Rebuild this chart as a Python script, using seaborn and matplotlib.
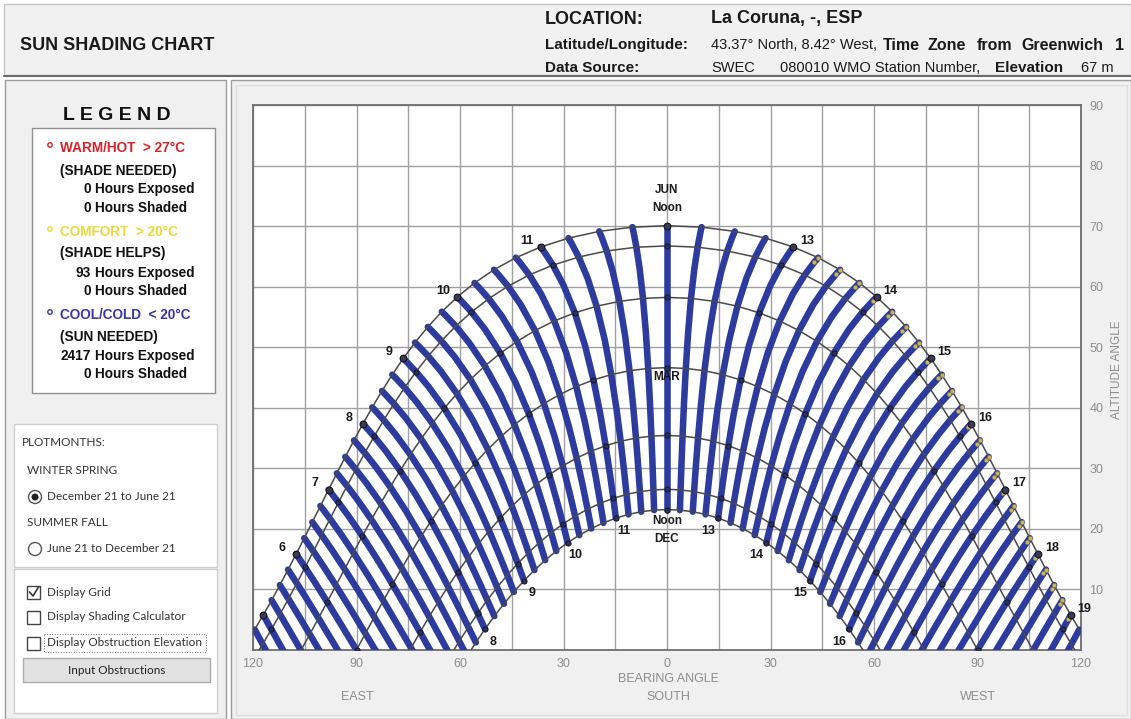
import numpy as np
import pandas as pd
import matplotlib
matplotlib.use('Agg')
import matplotlib.pyplot as plt
from matplotlib.patches import Rectangle, Circle
import seaborn as sns

# site
LATITUDE = 43.37

# date curves (21st of each month), declination read from the noon altitudes
MONTH_NAMES = ['DEC', 'JAN', 'FEB', 'MAR', 'APR', 'MAY', 'JUN']
MONTH_DECLINATION = [-23.44, -20.1, -11.2, 0.0, 11.6, 20.1, 23.44]

# observation days Dec 21 -> Jun 21 (about twice a month)
DAY_DECLINATION = [-23.44, -22.5, -20.1, -16.0, -11.2, -5.9, 0.0, 5.9, 11.6, 16.5, 20.1, 22.5, 23.44]

# solar time of the traces: every quarter hour
HOURS = [4, 5, 6, 7, 8, 9, 10, 11, 12, 13, 14, 15, 16, 17, 18, 19]
QUARTERS = [0.0, 0.25, 0.5, 0.75]
MARKER_HOURS = [5, 6, 7, 8, 9, 10, 11, 12, 13, 14, 15, 16, 17, 18, 19]

# comfort (yellow) points: afternoons close to June 21
COMFORT_HOURS = [13, 14, 15, 16, 17, 18]
COMFORT_DECLINATION = [22.5, 23.44]

JUN_LABEL_HOURS = [6, 7, 8, 9, 10, 11, 13, 14, 15, 16, 17, 18, 19]
DEC_LABEL_HOURS = [8, 9, 10, 11, 13, 14, 15, 16]

BEARING_TICKS = [-120, -90, -60, -30, 0, 30, 60, 90, 120]
BEARING_GRID = [-105, -75, -45, -15, 15, 45, 75, 105]
ALTITUDE_TICKS = [10, 20, 30, 40, 50, 60, 70, 80, 90]

BLUE = '#2d3b9f'


def sun_position(dec, t):
    lat = np.radians(LATITUDE)
    d = np.radians(dec)
    h = np.radians(15.0 * (np.asarray(t) - 12.0))
    alt = np.degrees(np.arcsin(np.sin(lat) * np.sin(d) + np.cos(lat) * np.cos(d) * np.cos(h)))
    bearing = np.degrees(np.arctan2(np.sin(h), np.cos(h) * np.sin(lat) - np.tan(d) * np.cos(lat)))
    return bearing, alt


times = [hr + q for hr in HOURS for q in QUARTERS]

rows = []
for t in times:
    for d in DAY_DECLINATION:
        b, a = sun_position(d, t)
        rows.append((t, d, float(b), float(a)))
traces = pd.DataFrame(rows, columns=['time', 'dec', 'bearing', 'altitude'])

rows = []
for m, d in zip(MONTH_NAMES, MONTH_DECLINATION):
    for t in times:
        b, a = sun_position(d, t)
        rows.append((m, t, float(b), float(a)))
curves = pd.DataFrame(rows, columns=['month', 'time', 'bearing', 'altitude'])
hour_marks = curves[curves['time'].isin(MARKER_HOURS) & (curves['altitude'] > 0)]
jun_marks = hour_marks[hour_marks['month'] == 'JUN']

rows = []
for hr in COMFORT_HOURS:
    for q in QUARTERS:
        for d in COMFORT_DECLINATION:
            b, a = sun_position(d, hr + q + 0.25)
            rows.append((float(b), float(a)))
comfort = pd.DataFrame(rows, columns=['bearing', 'altitude'])

sns.set_theme(style='white')
plt.rcParams['font.family'] = ['Liberation Sans', 'DejaVu Sans']

fig = plt.figure(figsize=(11.31, 7.19), dpi=100)
fig.patch.set_facecolor('white')

# background "window" drawn in pixel coordinates
bg = fig.add_axes([0, 0, 1, 1])
bg.set_xlim(0, 1131)
bg.set_ylim(719, 0)
bg.axis('off')


def box(x0, y0, x1, y1, fc, ec, lw=1.0, ls='-'):
    bg.add_patch(Rectangle((x0, y0), x1 - x0, y1 - y0, facecolor=fc, edgecolor=ec, linewidth=lw, linestyle=ls))


def txt(x, y, s, size=8.5, color='black', weight='normal', ha='left', **kw):
    bg.text(x, y, s, fontsize=size, color=color, fontweight=weight, ha=ha, va='center', **kw)


# header
ink = '#1a1a1a'
box(4, 4, 1131, 75, '#f1f1f1', '#c4c4c4')
bg.plot([4, 1131], [76, 76], color='#6b6b6b', lw=1.5)
txt(20, 45, 'SUN SHADING CHART', size=13, weight='bold', color=ink)
txt(545, 19, 'LOCATION:', size=13, weight='bold', color=ink)
txt(711, 19, 'La Coruna, -, ESP', size=13, weight='bold', color=ink)
txt(545, 45, 'Latitude/Longitude:', size=11, weight='bold', color=ink)
txt(711, 45, '43.37° North, 8.42° West,', size=10.5, color=ink)
for x, w in [(883, 'Time'), (928, 'Zone'), (977, 'from'), (1021, 'Greenwich'), (1115, '1')]:
    txt(x, 45, w, size=11.5, weight='bold', color=ink)
txt(545, 68, 'Data Source:', size=11, weight='bold', color=ink)
txt(711, 68, 'SWEC', size=10.5, color=ink)
txt(780, 68, '080010 WMO Station Number,', size=10.5, color=ink)
txt(995, 68, 'Elevation', size=11, weight='bold', color=ink)
txt(1081, 68, '67 m', size=10.5, color=ink)

# left panel
box(5, 80, 226, 719, '#f0f0f0', '#9c9c9c')
txt(117, 116, 'L E G E N D', size=14, weight='bold', ha='center', color='#111111')
box(32, 128, 215, 393, 'white', '#8f8f8f')
legend_rows = [
    (148, 'WARM/HOT  > 27°C', '#d8232a', True),
    (171, '(SHADE NEEDED)', '#111111', False),
    (232, 'COMFORT  > 20°C', '#ecd83a', True),
    (253, '(SHADE HELPS)', '#111111', False),
    (315, 'COOL/COLD  < 20°C', '#3a35a8', True),
    (337, '(SUN NEEDED)', '#111111', False),
]
for y, s, c, dot in legend_rows:
    txt(60, y, s, size=9.8, weight='bold', color=c)
    if dot:
        bg.add_patch(Circle((50, y - 3), 2.2, facecolor='none', edgecolor=c, lw=1.0))
hour_rows = [(189, '0', 'Exposed'), (208, '0', 'Shaded'), (273, '93', 'Exposed'),
             (291, '0', 'Shaded'), (356, '2417', 'Exposed'), (374, '0', 'Shaded')]
for y, n, s in hour_rows:
    txt(91, y, n, size=9.8, weight='bold', ha='right', color='#111111')
    txt(95, y, 'Hours ' + s, size=9.8, weight='bold', color='#111111')

panel_font = ['Lato', 'DejaVu Sans']
grey_ink = '#333333'
box(14, 424, 217, 567, 'white', '#cfcfcf')
txt(22, 443, 'PLOTMONTHS:', size=8.5, color=grey_ink, family=panel_font)
txt(27, 470, 'WINTER SPRING', size=8.5, color=grey_ink, family=panel_font)
txt(47, 497, 'December 21 to June 21', size=8.5, color=grey_ink, family=panel_font)
txt(27, 523, 'SUMMER FALL', size=8.5, color=grey_ink, family=panel_font)
txt(47, 549, 'June 21 to December 21', size=8.5, color=grey_ink, family=panel_font)
bg.add_patch(Circle((35, 497), 6.5, facecolor='white', edgecolor='#555555', lw=1.0))
bg.add_patch(Circle((35, 497), 3.5, facecolor='#222222', edgecolor='none'))
bg.add_patch(Circle((35, 549), 6.5, facecolor='white', edgecolor='#555555', lw=1.0))

box(14, 569, 217, 713, 'white', '#cfcfcf')
for y, s in [(592, 'Display Grid'), (617, 'Display Shading Calculator'),
             (643, 'Display Obstruction Elevation')]:
    box(27, y - 6.5, 40, y + 6.5, 'white', '#444444')
    txt(47, y, s, size=8.5, color=grey_ink, family=panel_font)
bg.plot([29.5, 33, 38.5], [592, 596, 587], color='#333333', lw=1.2)
box(44, 634, 206, 652, 'none', '#777777', lw=0.7, ls=':')
box(23, 658, 210, 682, '#e1e1e1', '#adadad')
txt(117, 670, 'Input Obstructions', size=8.5, color='#222222', ha='center', family=panel_font)

# chart panel
box(231, 80, 1131, 719, '#f0f0f0', '#9c9c9c')
box(236, 85, 1127, 715, 'none', '#dedede')

ax = fig.add_axes([253 / 1131, 1 - 650 / 719, (1081 - 253) / 1131, (650 - 105) / 719])
ax.set_facecolor('white')
ax.set_xlim(-120, 120)
ax.set_ylim(0, 90)

sns.lineplot(data=traces, x='bearing', y='altitude', units='time', estimator=None, sort=False,
             color=BLUE, linewidth=4.7, ax=ax, legend=False, zorder=3,
             solid_capstyle='round')
sns.lineplot(data=curves, x='bearing', y='altitude', units='month', estimator=None, sort=False,
             color='#4a4a4a', linewidth=1.1, ax=ax, legend=False, zorder=4)
sns.scatterplot(data=comfort, x='bearing', y='altitude', color='#cbb65e', edgecolor='#8c7b43',
                linewidth=0.4, s=9, ax=ax, legend=False, zorder=5)
sns.scatterplot(data=hour_marks, x='bearing', y='altitude', color='#2c2f63', edgecolor='#111111',
                linewidth=0.6, s=14, ax=ax, legend=False, zorder=6)
sns.scatterplot(data=jun_marks, x='bearing', y='altitude', color='#3a3a55', edgecolor='#111111',
                linewidth=0.7, s=24, ax=ax, legend=False, zorder=6)

# hour labels on the June and December curves
for hr in JUN_LABEL_HOURS:
    b, a = sun_position(MONTH_DECLINATION[-1], hr)
    dx = -10 if hr < 12 else 10
    ax.annotate(str(hr), (b, a), xytext=(dx, 4.5), textcoords='offset points',
                ha='center', va='center', fontsize=9, fontweight='bold', color=ink, zorder=7)
for hr in DEC_LABEL_HOURS:
    b, a = sun_position(MONTH_DECLINATION[0], hr)
    dx = 5.5 if hr < 12 else -7
    ax.annotate(str(hr), (b, a), xytext=(dx, -9), textcoords='offset points',
                ha='center', va='center', fontsize=9, fontweight='bold', color=ink, zorder=7)

month_text = [('JUN', 'JUN', 26), ('JUN', 'Noon', 13), ('MAR', 'MAR', -7),
              ('DEC', 'Noon', -8), ('DEC', 'DEC', -21.5)]
for m, s, dy in month_text:
    b, a = sun_position(MONTH_DECLINATION[MONTH_NAMES.index(m)], 12)
    ax.annotate(s, (b, a), xytext=(0, dy), textcoords='offset points',
                ha='center', va='center', fontsize=8.5, fontweight='bold', color=ink, zorder=7)

ax.set_xticks(BEARING_TICKS)
ax.set_xticklabels([str(abs(v)) for v in BEARING_TICKS])
ax.set_xticks(BEARING_GRID, minor=True)
ax.yaxis.tick_right()
ax.set_yticks(ALTITUDE_TICKS)
ax.tick_params(which='both', length=0, labelsize=9, labelcolor='#8c8c8c', pad=6)
ax.grid(True, which='both', color='#a0a0a0', linewidth=1.0)
ax.set_axisbelow(True)
ax.set_xlabel('')
ax.set_ylabel('')
for sp in ax.spines.values():
    sp.set_color('#6e6e6e')
    sp.set_linewidth(1.3)

txt(668, 679, 'BEARING ANGLE', size=9, color='#8c8c8c', ha='center')
txt(668, 697, 'SOUTH', size=9, color='#8c8c8c', ha='center')
txt(357, 697, 'EAST', size=9, color='#8c8c8c', ha='center')
txt(978, 697, 'WEST', size=9, color='#8c8c8c', ha='center')
bg.text(1117, 370, 'ALTITUDE ANGLE', fontsize=8.5, color='#8c8c8c', rotation=90,
        ha='center', va='center')

fig.savefig('out.png', dpi=100)
